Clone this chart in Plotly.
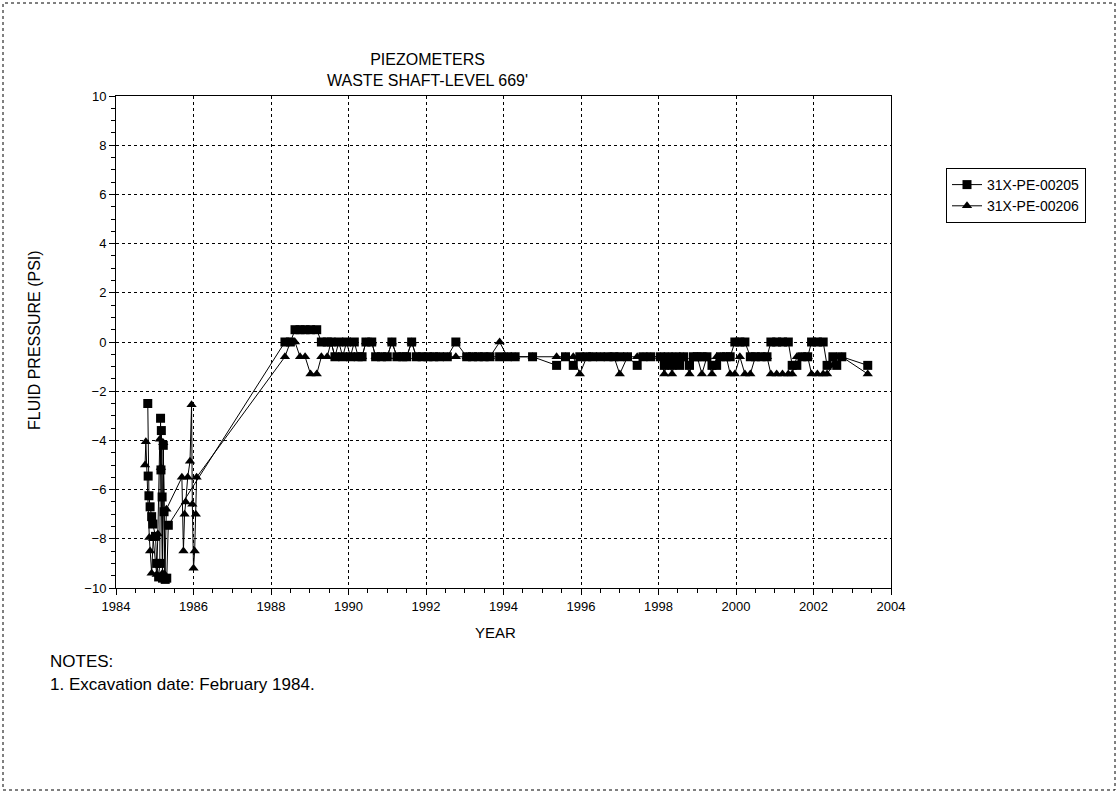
import plotly.graph_objects as go

# ---- data (decimal years, psi) ----
early_years_205 = [1984.82, 1984.83, 1984.85, 1984.88, 1984.92, 1984.95, 1985.02, 1985.05, 1985.10,
                   1985.13, 1985.15, 1985.16, 1985.17, 1985.19, 1985.20, 1985.22, 1985.24, 1985.27,
                   1985.31, 1985.35]
early_vals_205 = [-2.5, -5.45, -6.25, -6.7, -7.1, -7.4, -7.9, -9.0, -9.55,
                  -9.0, -3.1, -5.2, -3.6, -6.3, -9.6, -4.2, -6.9, -9.65,
                  -9.6, -7.45]

early_years_206 = [1984.75, 1984.77, 1984.86, 1984.88, 1984.92, 1984.96, 1985.05, 1985.08, 1985.13,
                   1985.16, 1985.20, 1985.22, 1985.26, 1985.30,
                   1985.70, 1985.74, 1985.77, 1985.80, 1985.85, 1985.91, 1985.95, 1985.97,
                   1986.00, 1986.03, 1986.06, 1986.08]
early_vals_206 = [-5.0, -4.05, -7.95, -8.5, -9.4, -8.0, -9.45, -7.8, -3.95,
                  -5.1, -9.4, -4.1, -9.45, -6.8,
                  -5.5, -8.5, -7.0, -6.5, -5.5, -4.85, -2.55, -6.6,
                  -9.2, -8.5, -7.0, -5.5]

years = [1988.36, 1988.50, 1988.62, 1988.75, 1988.88, 1989.02, 1989.18, 1989.30, 1989.45, 1989.55,
         1989.65, 1989.75, 1989.85, 1989.95, 1990.05, 1990.15, 1990.25, 1990.35, 1990.45, 1990.60,
         1990.70, 1990.85, 1991.00, 1991.12, 1991.25, 1991.40, 1991.50, 1991.63, 1991.75, 1991.90,
         1992.05, 1992.20, 1992.35, 1992.55, 1992.77, 1993.05, 1993.20, 1993.35, 1993.50, 1993.65,
         1993.90, 1994.10, 1994.30, 1994.75, 1995.37, 1995.60, 1995.80, 1995.97, 1996.15, 1996.30,
         1996.50, 1996.70, 1996.85, 1997.00, 1997.20, 1997.45, 1997.60, 1997.80, 1998.05, 1998.15,
         1998.25, 1998.35, 1998.45, 1998.55, 1998.65, 1998.80, 1998.90, 1999.00, 1999.12, 1999.25,
         1999.38, 1999.50, 1999.60, 1999.75, 1999.85, 1999.97, 2000.10, 2000.23, 2000.37, 2000.50,
         2000.65, 2000.80, 2000.90, 2001.05, 2001.20, 2001.35, 2001.45, 2001.57, 2001.70, 2001.85,
         2001.95, 2002.10, 2002.25, 2002.35, 2002.50, 2002.60, 2002.73, 2003.40]

vals_205 = [0.0, 0.0, 0.5, 0.5, 0.5, 0.5, 0.5, 0.0, 0.0, 0.0,
            -0.6, 0.0, -0.6, 0.0, -0.6, 0.0, -0.6, -0.6, 0.0, 0.0,
            -0.6, -0.6, -0.6, 0.0, -0.6, -0.6, -0.6, 0.0, -0.6, -0.6,
            -0.6, -0.6, -0.6, -0.6, 0.0, -0.6, -0.6, -0.6, -0.6, -0.6,
            -0.6, -0.6, -0.6, -0.6, -0.95, -0.6, -0.95, -0.6, -0.6, -0.6,
            -0.6, -0.6, -0.6, -0.6, -0.6, -0.95, -0.6, -0.6, -0.6, -0.95,
            -0.6, -0.95, -0.6, -0.95, -0.6, -0.95, -0.6, -0.6, -0.6, -0.6,
            -0.95, -0.95, -0.6, -0.6, -0.6, 0.0, 0.0, 0.0, -0.6, -0.6,
            -0.6, -0.6, 0.0, 0.0, 0.0, 0.0, -0.95, -0.95, -0.6, -0.6,
            0.0, 0.0, 0.0, -0.95, -0.6, -0.95, -0.6, -0.95]

vals_206 = [-0.6, 0.0, 0.0, -0.6, -0.6, -1.3, -1.3, -0.6, -0.6, 0.0,
            -0.6, -0.6, -0.6, -0.6, -0.6, -0.6, -0.6, -0.6, 0.0, 0.0,
            -0.6, -0.6, -0.6, 0.0, -0.6, -0.6, -0.6, 0.0, -0.6, -0.6,
            -0.6, -0.6, -0.6, -0.6, -0.6, -0.6, -0.6, -0.6, -0.6, -0.6,
            0.0, -0.6, -0.6, -0.6, -0.6, -0.6, -0.6, -1.3, -0.6, -0.6,
            -0.6, -0.6, -0.6, -1.3, -0.6, -0.6, -0.6, -0.6, -0.6, -1.3,
            -0.6, -1.3, -0.6, -0.6, -0.6, -1.3, -0.6, -0.6, -1.3, -0.6,
            -1.3, -0.6, -0.6, -0.6, -1.3, -1.3, -0.6, -1.3, -1.3, -0.6,
            -0.6, -0.6, -1.3, -1.3, -1.3, -1.3, -1.3, -0.6, -0.6, -0.6,
            -1.3, -1.3, -1.3, -1.3, -0.95, -0.6, -0.6, -1.3]

series_names = ["31X-PE-00205", "31X-PE-00206"]
x_ticks = list(range(1984, 2005, 2))
y_ticks = list(range(-10, 11, 2))

FONT = "Liberation Sans, Arial, sans-serif"

fig = go.Figure()
fig.add_trace(go.Scatter(
    x=early_years_205 + years, y=early_vals_205 + vals_205, name=series_names[0],
    mode="lines+markers", line=dict(color="black", width=1),
    marker=dict(symbol="square", size=9, color="black")))
fig.add_trace(go.Scatter(
    x=early_years_206 + years, y=early_vals_206 + vals_206, name=series_names[1],
    mode="lines+markers", line=dict(color="black", width=1),
    marker=dict(symbol="triangle-up", size=9, color="black")))

L, R, T, B = 116, 891, 96, 588
W, H = 1118, 793
pw, ph = R - L, B - T


def px(x):
    return (x - L) / pw


def py(y):
    return (B - y) / ph


axis_common = dict(
    showline=True, linecolor="black", linewidth=1, mirror=True,
    showgrid=True, gridcolor="black", gridwidth=1, griddash="dot",
    ticks="outside", ticklen=6, tickcolor="black", tickwidth=1,
    tickfont=dict(family=FONT, size=13, color="black"),
    zeroline=False,
    minor=dict(ticks="outside", ticklen=4, tickcolor="black", showgrid=False),
)

fig.update_xaxes(range=[1984, 2004], tickvals=x_ticks, minor_dtick=0.5, **axis_common)
fig.update_yaxes(range=[-10, 10], tickvals=y_ticks, minor_dtick=0.5, **axis_common)

fig.update_layout(
    width=W, height=H,
    margin=dict(l=L, r=W - R, t=T, b=H - B),
    paper_bgcolor="white", plot_bgcolor="white",
    font=dict(family=FONT, size=13, color="black"),
    showlegend=True,
    legend=dict(x=px(946), y=py(168), xanchor="left", yanchor="top",
                bordercolor="black", borderwidth=1, bgcolor="white",
                font=dict(family=FONT, size=14, color="black"),
                tracegroupgap=0, itemwidth=30),
    shapes=[dict(type="rect", xref="paper", yref="paper",
                 x0=px(3), x1=px(1115), y0=py(790), y1=py(3),
                 line=dict(color="black", width=1, dash="dot"))],
    annotations=[
        dict(text="PIEZOMETERS<br>WASTE SHAFT-LEVEL 669'", xref="paper", yref="paper",
             x=px(427), y=py(70), xanchor="center", yanchor="middle", showarrow=False,
             font=dict(family=FONT, size=16, color="black")),
        dict(text="FLUID PRESSURE (PSI)", xref="paper", yref="paper", textangle=-90,
             x=px(34), y=py(340), xanchor="center", yanchor="middle", showarrow=False,
             font=dict(family=FONT, size=16, color="black")),
        dict(text="YEAR", xref="paper", yref="paper",
             x=px(495), y=py(632), xanchor="center", yanchor="middle", showarrow=False,
             font=dict(family=FONT, size=15, color="black")),
        dict(text="NOTES:", xref="paper", yref="paper",
             x=px(48), y=py(661), xanchor="left", yanchor="middle", showarrow=False,
             font=dict(family=FONT, size=17, color="black")),
        dict(text="1. Excavation date: February 1984.", xref="paper", yref="paper",
             x=px(48), y=py(684), xanchor="left", yanchor="middle", showarrow=False,
             font=dict(family=FONT, size=17, color="black")),
    ],
)

fig.write_html("out.html", config={"displayModeBar": False},
               post_script="document.body.style.margin='0px';document.body.style.overflow='hidden';")
